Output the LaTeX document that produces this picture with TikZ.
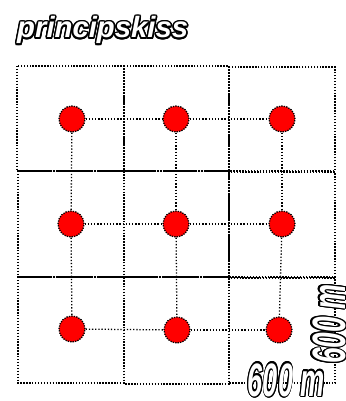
\documentclass[tikz,border=0pt]{standalone}
\usepackage{fontspec}
\setmainfont{Liberation Sans}
\usepackage{contour}
\contourlength{1.3pt}
\contournumber{16}
\begin{document}
\begin{tikzpicture}[
    x=0.03cm, y=-0.03cm,
    cell/.style={draw, line width=1.2pt, dash pattern=on 1.2pt off 1.3pt},
    link/.style={draw, line width=1.1pt, dash pattern=on 1.1pt off 1.6pt},
    site/.style={circle, draw, fill=red, line width=1.1pt, dash pattern=on 1.1pt off 1pt, inner sep=0pt, minimum size=0.78cm},
    label/.style={inner sep=0pt, text=white},
  ]
  \useasboundingbox (0,0) rectangle (346,401);
  \draw[cell] (17,66) rectangle (124,171);
  \draw[cell] (124,66) rectangle (229,171);
  \draw[cell] (229,67) rectangle (335,171);
  \draw[cell] (18,171) rectangle (124,277);
  \draw[cell] (124,171) rectangle (229,277);
  \draw[cell] (229,172) rectangle (335,277);
  \draw[cell] (18,277) rectangle (124,383);
  \draw[cell] (124,277) rectangle (229,384);
  \draw[cell] (229,278) rectangle (335,383);
  \node[site] (a1) at (72,119) {};
  \node[site] (a2) at (176,119) {};
  \node[site] (a3) at (282,119) {};
  \node[site] (b1) at (71,224) {};
  \node[site] (b2) at (176,224) {};
  \node[site] (b3) at (282,224) {};
  \node[site] (c1) at (72,329) {};
  \node[site] (c2) at (177,330) {};
  \node[site] (c3) at (279,330) {};
  \draw[link] (a1) -- (a2);
  \draw[link] (a2) -- (a3);
  \draw[link] (b1) -- (b2);
  \draw[link] (b2) -- (b3);
  \draw[link] (c1) -- (c2);
  \draw[link] (c2) -- (c3);
  \draw[link] (a1) -- (b1);
  \draw[link] (b1) -- (c1);
  \draw[link] (a2) -- (b2);
  \draw[link] (b2) -- (c2);
  \draw[link] (a3) -- (b3);
  \draw[link] (b3) -- (c3);
  \node[label, anchor=base west, font=\fontsize{25}{29}\selectfont\bfseries\itshape] (title) at (17,38) {\contour{black}{principskiss}};
  \node[label, anchor=base east, xscale=0.58, font=\fontsize{40}{44}\selectfont\bfseries\itshape] (width) at (325,396) {\contour{black}{600 m}};
  \node[label, anchor=base west, rotate=90, xscale=0.6, font=\fontsize{40}{44}\selectfont\bfseries\itshape] (height) at (345,364) {\contour{black}{600 m}};
\end{tikzpicture}
\end{document}
